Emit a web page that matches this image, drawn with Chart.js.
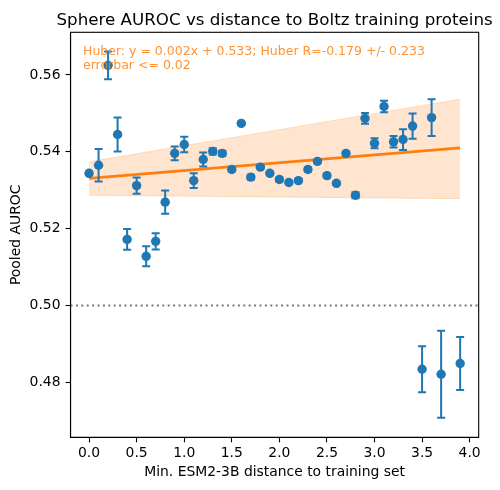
<!DOCTYPE html>
<html>
<head>
<meta charset="utf-8">
<script src="https://cdn.jsdelivr.net/npm/chart.js@4.4.1/dist/chart.umd.min.js"></script>
<style>
  html, body { margin: 0; padding: 0; background: #fff; }
  #wrap { width: 500px; height: 490px; }
</style>
</head>
<body>
<div id="wrap"><canvas id="grafico" width="500" height="490"></canvas></div>
<script>
// values
const distances = [0.0, 0.1, 0.2, 0.3, 0.4, 0.5, 0.6, 0.7, 0.8, 0.9, 1.0, 1.1, 1.2, 1.3, 1.4, 1.5, 1.6, 1.7, 1.8, 1.9,
  2.0, 2.1, 2.2, 2.3, 2.4, 2.5, 2.6, 2.7, 2.8, 2.9, 3.0, 3.1, 3.2, 3.3, 3.4, 3.5, 3.6, 3.7, 3.9];
const auroc = [0.5344, 0.5365, 0.5625, 0.5445, 0.5172, 0.5312, 0.5128, 0.5167, 0.5269, 0.5396, 0.5419, 0.5325, 0.5380,
  0.5401, 0.5396, 0.5354, 0.5474, 0.5334, 0.5360, 0.5344, 0.5328, 0.5320, 0.5325, 0.5354, 0.5375, 0.5338, 0.5318,
  0.5396, 0.5287, 0.5487, 0.5422, 0.5518, 0.5426, 0.5432, 0.5467, 0.4834, 0.5489, 0.4821, 0.4849];
const errs = [0.0004, 0.0042, 0.0036, 0.0044, 0.0027, 0.0021, 0.0026, 0.0021, 0.0030, 0.0018, 0.0020, 0.0019, 0.0018,
  0.0008, 0.0007, 0.0005, 0.0003, 0.0006, 0.0004, 0.0004, 0.0005, 0.0004, 0.0004, 0.0005, 0.0004, 0.0004, 0.0004,
  0.0005, 0.0008, 0.0014, 0.0013, 0.0015, 0.0015, 0.0027, 0.0033, 0.0060, 0.0048, 0.0113, 0.0069];

const fitX = [0.0, 3.9];
const fitY = [0.5331, 0.5410];
const bandUpper = [0.5374, 0.5537];
const bandLower = [0.5287, 0.5278];
const refLevel = 0.5;

const xTicks = [0.0, 0.5, 1.0, 1.5, 2.0, 2.5, 3.0, 3.5, 4.0];
const yTicks = [0.48, 0.50, 0.52, 0.54, 0.56];

const titolo = "Sphere AUROC vs distance to Boltz training proteins";
const annotation = ["Huber: y = 0.002x + 0.533; Huber R=-0.179 +/- 0.233", "errorbar <= 0.02"];

const BLUE = "#1f77b4";
const ORANGE = "#ff7f0e";
const FONT = "DejaVu Sans";

const xMin = -0.195, xMax = 4.095;
const yMin = 0.4657, yMax = 0.5711;

function toPoints(xs, ys) {
  return xs.map((v, i) => ({ x: v, y: ys[i] }));
}

// error bars drawn just before the markers
const errorBars = {
  id: "errorBars",
  beforeDatasetDraw(chart, args) {
    if (args.index !== 0) return;
    const { ctx, scales: { x, y } } = chart;
    ctx.save();
    ctx.strokeStyle = BLUE;
    ctx.lineWidth = 2;
    for (let i = 0; i < distances.length; i++) {
      const px = x.getPixelForValue(distances[i]);
      const top = y.getPixelForValue(auroc[i] + errs[i]);
      const bot = y.getPixelForValue(auroc[i] - errs[i]);
      ctx.beginPath();
      ctx.moveTo(px, top); ctx.lineTo(px, bot);
      ctx.moveTo(px - 4, top); ctx.lineTo(px + 4, top);
      ctx.moveTo(px - 4, bot); ctx.lineTo(px + 4, bot);
      ctx.stroke();
    }
    ctx.restore();
  }
};

// frame, title (centred on the axes like matplotlib) and fit text
const frame = {
  id: "frame",
  afterDraw(chart) {
    const { ctx, chartArea: a } = chart;
    ctx.save();
    ctx.strokeStyle = "#000";
    ctx.lineWidth = 1.1;
    ctx.strokeRect(a.left, a.top, a.right - a.left, a.bottom - a.top);

    ctx.fillStyle = "#000";
    ctx.font = "16.7px '" + FONT + "'";
    ctx.textAlign = "center";
    ctx.textBaseline = "alphabetic";
    ctx.fillText(titolo, (a.left + a.right) / 2, 24.5);

    ctx.fillStyle = "rgba(255,127,14,0.85)";
    ctx.font = "12.5px '" + FONT + "'";
    ctx.textAlign = "left";
    ctx.fillText(annotation[0], a.left + 12.5, a.top + 22.5);
    ctx.fillText(annotation[1], a.left + 12.5, a.top + 37);
    ctx.restore();
  }
};

let canvas = document.getElementById("grafico");

let config = {
  type: "scatter",
  data: {
    datasets: [
      {
        label: "AUROC",
        data: toPoints(distances, auroc),
        backgroundColor: BLUE,
        borderColor: BLUE,
        borderWidth: 0,
        pointRadius: 4.7,
        pointHoverRadius: 4.7,
        order: 0
      },
      {
        label: "Huber fit",
        type: "line",
        data: toPoints(fitX, fitY),
        borderColor: ORANGE,
        borderWidth: 2.8,
        pointRadius: 0,
        fill: false,
        order: 1
      },
      {
        label: "band upper",
        type: "line",
        data: toPoints(fitX, bandUpper),
        borderColor: "rgba(255,127,14,0.22)",
        borderWidth: 1,
        pointRadius: 0,
        backgroundColor: "rgba(255,127,14,0.2)",
        fill: "+1",
        order: 2
      },
      {
        label: "band lower",
        type: "line",
        data: toPoints(fitX, bandLower),
        borderColor: "rgba(255,127,14,0.22)",
        borderWidth: 1,
        pointRadius: 0,
        fill: false,
        order: 3
      },
      {
        label: "0.5",
        type: "line",
        data: toPoints([xMin, xMax], [refLevel, refLevel]),
        borderColor: "#777",
        borderWidth: 2,
        borderDash: [2, 3.4],
        pointRadius: 0,
        fill: false,
        order: 4
      }
    ]
  },
  options: {
    responsive: false,
    animation: false,
    events: [],
    layout: { padding: { left: 0, right: 21.3, top: 32.3, bottom: 0 } },
    plugins: {
      legend: { display: false },
      tooltip: { enabled: false },
      title: { display: false }
    },
    scales: {
      x: {
        type: "linear",
        min: xMin,
        max: xMax,
        afterBuildTicks: (scale) => { scale.ticks = xTicks.map(v => ({ value: v })); },
        afterFit: (scale) => { scale.height = 52.7; },
        ticks: {
          color: "#000",
          padding: 3,
          font: { family: FONT, size: 13.9 },
          callback: (v) => v.toFixed(1)
        },
        grid: { drawOnChartArea: false, drawTicks: true, tickLength: 5, tickColor: "#000", tickWidth: 1.1 },
        border: { display: true, color: "#000", width: 1.1 },
        title: {
          display: true,
          text: "Min. ESM2-3B distance to training set",
          color: "#000",
          font: { family: FONT, size: 13.9, lineHeight: 1.2 },
          padding: { top: 0, bottom: 9 }
        }
      },
      y: {
        type: "linear",
        min: yMin,
        max: yMax,
        afterBuildTicks: (scale) => { scale.ticks = yTicks.map(v => ({ value: v })); },
        afterFit: (scale) => { scale.width = 70.5; },
        ticks: {
          color: "#000",
          padding: 5,
          font: { family: FONT, size: 13.9 },
          callback: (v) => v.toFixed(2)
        },
        grid: { drawOnChartArea: false, drawTicks: true, tickLength: 5, tickColor: "#000", tickWidth: 1.1 },
        border: { display: true, color: "#000", width: 1.1 },
        title: {
          display: true,
          text: "Pooled AUROC",
          color: "#000",
          font: { family: FONT, size: 13.9, lineHeight: 1.2 },
          padding: { top: 7.7, bottom: 0 }
        }
      }
    }
  },
  plugins: [errorBars, frame]
};

let chart = new Chart(canvas, config);
</script>
</body>
</html>
